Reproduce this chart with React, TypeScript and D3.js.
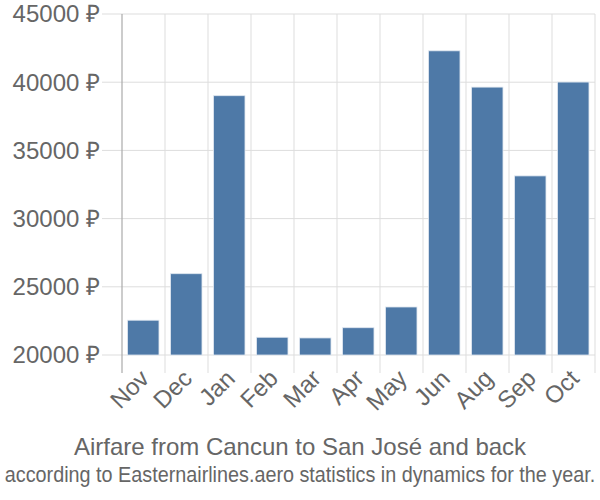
import React from "react";
import * as d3 from "d3";

const months = ["Nov", "Dec", "Jan", "Feb", "Mar", "Apr", "May", "Jun", "Aug", "Sep", "Oct"];
const prices = [22550, 25960, 39010, 21300, 21250, 22000, 23520, 42300, 39640, 33130, 40010];
const yTicks = [20000, 25000, 30000, 35000, 40000, 45000];
const title = "Airfare from Cancun to San José and back";
const subtitle = "according to Easternairlines.aero statistics in dynamics for the year.";

export default function App() {
  const W = 600, H = 500;
  const left = 122, right = 595, top = 14, bottom = 355;
  const x = d3.scaleBand<string>().domain(months).range([left, right]).padding(0);
  const y = d3.scaleLinear().domain([20000, 45000]).range([bottom, top]);
  const step = x.step();
  const inset = step * 0.13;
  const bw = step * 0.73;
  const font = "'Liberation Sans', Arial, sans-serif";
  return (
    <svg width={W} height={H} style={{ position: "absolute", left: 0, top: 0 }} fontFamily={font}>
      <rect width={W} height={H} fill="#fff" />
      {yTicks.map((t) => (
        <g key={t}>
          <line x1={102} x2={right} y1={y(t)} y2={y(t)} stroke="#ddd" strokeWidth={1} />
          <text x={100} y={y(t)} dy="0.35em" textAnchor="end" fontSize={24} fill="#666">
            {`${t} ₽`}
          </text>
        </g>
      ))}
      {months.map((m) => (
        <line key={m} x1={(x(m) as number) + step} x2={(x(m) as number) + step} y1={top} y2={373} stroke="#ddd" strokeWidth={1} />
      ))}
      {months.map((m, i) => (
        <rect
          key={m}
          x={(x(m) as number) + inset}
          y={y(prices[i])}
          width={bw}
          height={bottom - y(prices[i])}
          fill="#4e79a7"
          stroke="#dfe7f0"
          strokeWidth={0.8}
        />
      ))}
      <line x1={left} x2={left} y1={top} y2={373} stroke="#aaa" strokeWidth={1.2} />
      {months.map((m) => {
        const cx = (x(m) as number) + step / 2 + 1;
        const cy = 374;
        return (
          <text key={m} x={cx} y={cy} textAnchor="end" fontSize={24} fill="#666" transform={`rotate(-45 ${cx} ${cy})`} dy="0.35em">
            {m}
          </text>
        );
      })}
      <text x={300} y={455} textAnchor="middle" fontSize={24} fill="#666">{title}</text>
      <g transform="translate(300,482) scale(0.9,1)">
        <text x={0} y={0} textAnchor="middle" fontSize={22} fill="#666">{subtitle}</text>
      </g>
    </svg>
  );
}
